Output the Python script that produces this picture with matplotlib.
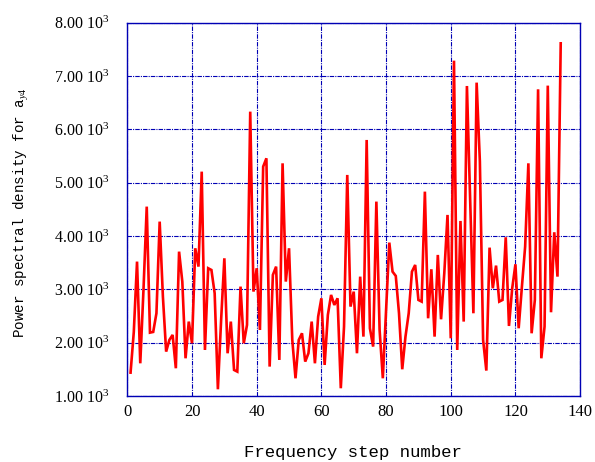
import matplotlib
matplotlib.use("Agg")
import matplotlib.pyplot as plt
from matplotlib.ticker import FixedLocator, FuncFormatter

steps = list(range(1, 135))
psd = [
    1437, 2200, 3519, 1612, 3000, 4550, 2187, 2200, 2550, 4269,
    2860, 1831, 2050, 2144, 1519, 3706, 3144, 1706, 2394, 1987,
    3769, 3425, 5206, 1862, 3394, 3362, 2925, 1125, 2425, 3581,
    1800, 2394, 1487, 1456, 3050, 1987, 2331, 6331, 2956, 3394,
    2237, 5300, 5456, 1550, 3269, 3425, 1675, 5362, 3144, 3769,
    2050, 1331, 2050, 2175, 1644, 1800, 2394, 1612, 2487, 2831,
    1581, 2519, 2894, 2706, 2831, 1144, 2300, 5144, 2675, 2956,
    1800, 3237, 2112, 5800, 2269, 1925, 4644, 2237, 1331, 2612,
    3875, 3331, 3250, 2550, 1500, 2112, 2550, 3331, 3456, 2800,
    2769, 4831, 2456, 3375, 2112, 3644, 2437, 3300, 4394, 2081,
    7287, 1862, 4281, 2394, 6812, 4700, 2550, 6875, 5400, 2050,
    1475, 3781, 3019, 3444, 2769, 2800, 3975, 2312, 3019, 3469,
    2269, 3050, 3800, 5362, 2175, 2800, 6750, 1706, 2300, 6819,
    2569, 4069, 3237, 7612,
]
x_ticks = [0, 20, 40, 60, 80, 100, 120, 140]
y_ticks = [1000, 2000, 3000, 4000, 5000, 6000, 7000, 8000]

plt.rcParams["mathtext.fontset"] = "custom"
plt.rcParams["mathtext.rm"] = "Liberation Serif"
plt.rcParams["mathtext.it"] = "Liberation Serif:italic"

grid_col = "#0000b4"
fig = plt.figure(figsize=(5.95, 4.62), dpi=100)
ax = fig.add_axes([0.214, 0.143, 0.761, 0.808])
ax.plot(steps, psd, color="#ff0000", linewidth=1.9, solid_joinstyle="miter")
ax.set_xlim(0, 140)
ax.set_ylim(1000, 8000)
ax.xaxis.set_major_locator(FixedLocator(x_ticks))
ax.yaxis.set_major_locator(FixedLocator(y_ticks))
ax.yaxis.set_major_formatter(FuncFormatter(lambda v, p: "%.2f 10$^{3}$" % (v / 1000)))
ax.xaxis.set_major_formatter(FuncFormatter(lambda v, p: "%d" % v))
ax.grid(True, color=grid_col, linestyle=(0, (4, 1, 1, 1)), linewidth=0.8)
for s in ax.spines.values():
    s.set_color(grid_col)
    s.set_linewidth(1.0)
ax.tick_params(axis="y", which="both", length=0, pad=13, labelsize=11.5)
ax.tick_params(axis="x", which="both", length=0, pad=6, labelsize=12)
for lab in ax.get_xticklabels() + ax.get_yticklabels():
    lab.set_family("Liberation Serif")

fig.text(0.594, 0.0216, "Frequency step number", family="Liberation Mono",
         fontsize=12.5, ha="center", va="center")
fig.text(0.036, 0.539, r"Power spectral density for a$_{\mathit{y4}}$",
         family="Liberation Mono", fontsize=10.3, rotation=90, ha="center", va="center")
fig.savefig("out.png", dpi=100)
